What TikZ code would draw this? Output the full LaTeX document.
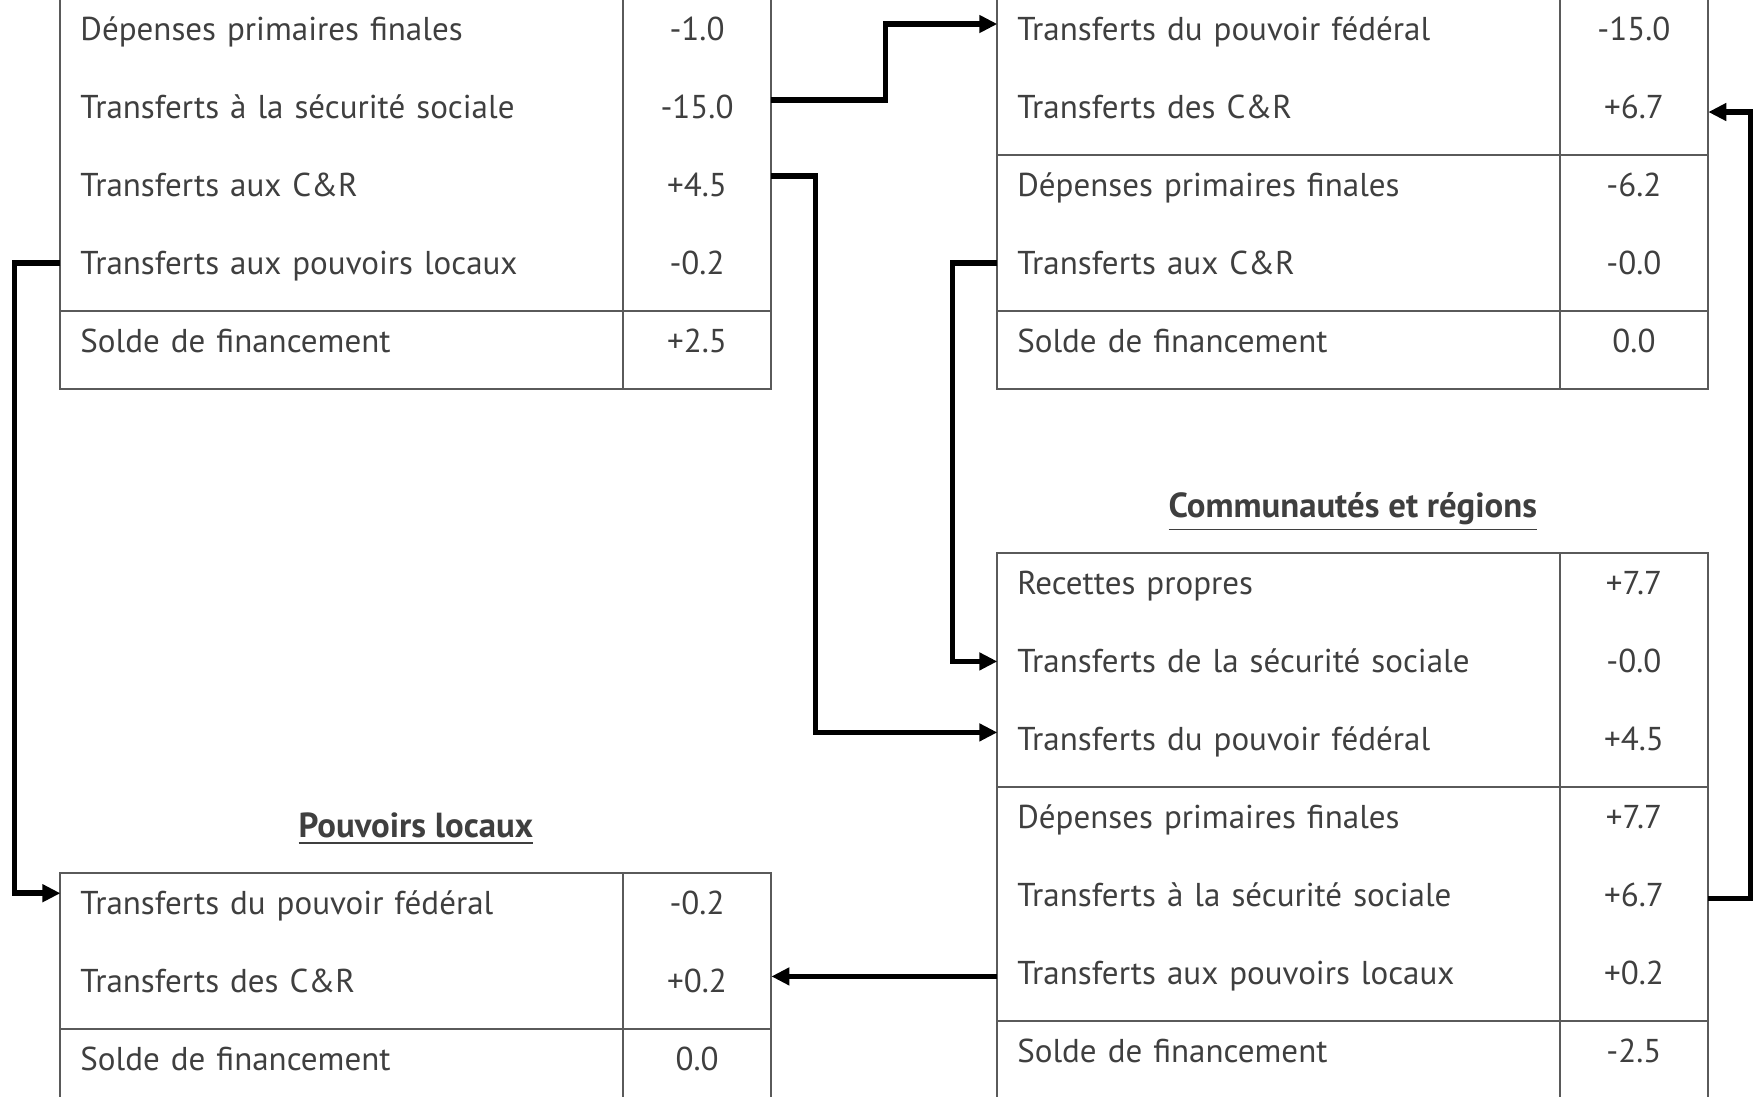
\documentclass[tikz,border=0pt]{standalone}
\usepackage{fontspec}
\setmainfont{PT Sans}
\usepackage{tikz}
\usetikzlibrary{arrows.meta, positioning, calc}
\definecolor{txtgrey}{HTML}{3F3F3F}
\definecolor{linegrey}{HTML}{5A5A5A}
\tikzset{
	lbl/.style={rectangle, text width=5.223cm, align=left, inner xsep=0.2cm, inner ysep=0pt, outer sep=0pt,
		text height=6.5pt, text depth=0pt,
		minimum height=0.6cm, font=\fontsize{9.4}{11}\selectfont, text=txtgrey},
	val/.style={rectangle, minimum width=1.487cm, inner sep=0pt, outer sep=0pt,
		text height=6.5pt, text depth=0pt,
		minimum height=0.6cm, font=\fontsize{9.4}{11}\selectfont, text=txtgrey},
	frame/.style={draw=linegrey, line width=0.6pt},
	title/.style={font=\bfseries\fontsize{9.9}{12}\selectfont, text=txtgrey},
	arrow/.style={-{Triangle[length=0.18cm, width=0.17cm]}, line width=1.6pt, black},
}
\begin{document}
\begin{tikzpicture}[node distance=0.18cm]
	\useasboundingbox (0,0) rectangle (17.53,-10.96);
	\clip (0,0) rectangle (17.53,-10.96);
	% pouvoir federal
	\node[lbl, anchor=north west] (fdep) at (0.604,0.01) {Dépenses primaires finales};
	\node[val, right=0cm of fdep] (fdep-v) {-1.0};
	\node[lbl, below=of fdep] (fsec) {Transferts à la sécurité sociale};
	\node[val, right=0cm of fsec] (fsec-v) {-15.0};
	\node[lbl, below=of fsec] (fcr) {Transferts aux C\&R};
	\node[val, right=0cm of fcr] (fcr-v) {+4.5};
	\node[lbl, below=of fcr] (fpl) {Transferts aux pouvoirs locaux};
	\node[val, right=0cm of fpl] (fpl-v) {-0.2};
	\node[lbl, below=of fpl] (fsol) {Solde de financement};
	\node[val, right=0cm of fsol] (fsol-v) {+2.5};
	% securite sociale
	\node[lbl, anchor=north west] (ssfed) at (9.973,0.01) {Transferts du pouvoir fédéral};
	\node[val, right=0cm of ssfed] (ssfed-v) {-15.0};
	\node[lbl, below=of ssfed] (sscr) {Transferts des C\&R};
	\node[val, right=0cm of sscr] (sscr-v) {+6.7};
	\node[lbl, below=of sscr] (ssdep) {Dépenses primaires finales};
	\node[val, right=0cm of ssdep] (ssdep-v) {-6.2};
	\node[lbl, below=of ssdep] (ssaux) {Transferts aux C\&R};
	\node[val, right=0cm of ssaux] (ssaux-v) {-0.0};
	\node[lbl, below=of ssaux] (sssol) {Solde de financement};
	\node[val, right=0cm of sssol] (sssol-v) {0.0};
	% communautes et regions
	\node[title] (crtitle) at (13.528,-5.12) {\underline{Communautés et régions}};
	\node[lbl, anchor=north west] (crrec) at (9.973,-5.534) {Recettes propres};
	\node[val, right=0cm of crrec] (crrec-v) {+7.7};
	\node[lbl, below=of crrec] (crss) {Transferts de la sécurité sociale};
	\node[val, right=0cm of crss] (crss-v) {-0.0};
	\node[lbl, below=of crss] (crfed) {Transferts du pouvoir fédéral};
	\node[val, right=0cm of crfed] (crfed-v) {+4.5};
	\node[lbl, below=of crfed] (crdep) {Dépenses primaires finales};
	\node[val, right=0cm of crdep] (crdep-v) {+7.7};
	\node[lbl, below=of crdep] (crsec) {Transferts à la sécurité sociale};
	\node[val, right=0cm of crsec] (crsec-v) {+6.7};
	\node[lbl, below=of crsec] (crpl) {Transferts aux pouvoirs locaux};
	\node[val, right=0cm of crpl] (crpl-v) {+0.2};
	\node[lbl, below=of crpl] (crsol) {Solde de financement};
	\node[val, right=0cm of crsol] (crsol-v) {-2.5};
	% pouvoirs locaux
	\node[title] (pltitle) at (4.159,-8.29) {\underline{Pouvoirs locaux}};
	\node[lbl, anchor=north west] (plfed) at (0.604,-8.732) {Transferts du pouvoir fédéral};
	\node[val, right=0cm of plfed] (plfed-v) {-0.2};
	\node[lbl, below=of plfed] (plcr) {Transferts des C\&R};
	\node[val, right=0cm of plcr] (plcr-v) {+0.2};
	\node[lbl, below=of plcr] (plsol) {Solde de financement};
	\node[val, right=0cm of plsol] (plsol-v) {0.0};
	% table frames
	\foreach \t/\b in {fdep/fpl, fsol/fsol, ssfed/sscr, ssdep/ssaux, sssol/sssol,
		crrec/crfed, crdep/crpl, crsol/crsol, plfed/plcr, plsol/plsol}{
		\draw[frame] (\t.north west) rectangle ([yshift=-0.18cm]\b-v.south east);
		\draw[frame] (\t-v.north west) -- ([yshift=-0.18cm]\b-v.south west);
	}
	% transfers
	\draw[arrow] ([yshift=0.07cm]fsec-v.east) -- ++(1.14,0) |- ([yshift=0.05cm]ssfed.west);
	\draw[arrow] ([yshift=0.09cm]fcr-v.east) -- ++(0.44,0) |- ([yshift=0.07cm]crfed.west);
	\draw[arrow] (fpl.west) -- ++(-0.46,0) |- ([yshift=0.1cm]plfed.west);
	\draw[arrow] (ssaux.west) -- ++(-0.45,0) |- (crss.west);
	\draw[arrow] ([yshift=-0.03cm]crsec-v.east) -- ++(0.42,0) |- ([yshift=-0.05cm]sscr-v.east);
	\draw[arrow] ([yshift=-0.03cm]crpl.west) -- ([yshift=-0.03cm]crpl.west -| plcr-v.east);
\end{tikzpicture}
\end{document}
